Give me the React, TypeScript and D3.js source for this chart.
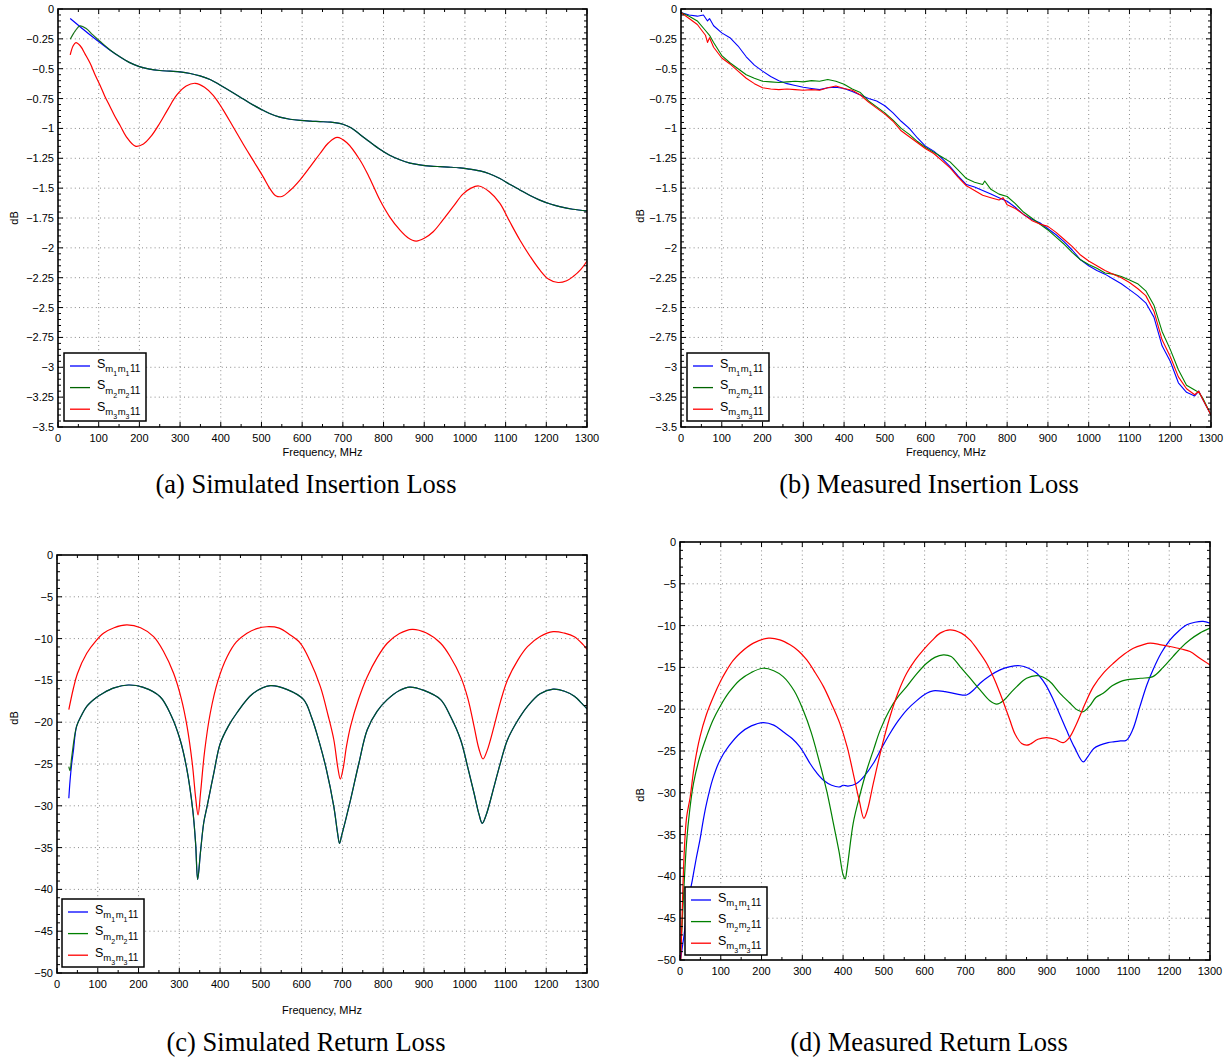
import React from "react";
import * as d3 from "d3";

// ---------- tick labels ----------
const freqTicks = [0, 100, 200, 300, 400, 500, 600, 700, 800, 900, 1000, 1100, 1200, 1300];
const ilTicks = [0, -0.25, -0.5, -0.75, -1, -1.25, -1.5, -1.75, -2, -2.25, -2.5, -2.75, -3, -3.25, -3.5];
const rlTicks = [0, -5, -10, -15, -20, -25, -30, -35, -40, -45, -50];
const captions = ["(a) Simulated Insertion Loss", "(b) Measured Insertion Loss", "(c) Simulated Return Loss", "(d) Measured Return Loss"];
const legendIdx = ["1", "2", "3"];

type P = [number, number];

// ---------- (a) simulated insertion loss [MHz, dB] ----------
const simIL_m1: P[] = [[30,-0.08],[55,-0.15],[80,-0.22],[103,-0.28],[128,-0.345],[152,-0.40],[175,-0.447],[200,-0.482],[225,-0.503],[250,-0.515],[275,-0.521],[300,-0.527],[325,-0.54],[349,-0.56],[375,-0.592],[398,-0.636],[425,-0.69],[447,-0.736],[470,-0.785],[496,-0.834],[520,-0.875],[545,-0.905],[570,-0.923],[595,-0.933],[620,-0.939],[644,-0.943],[670,-0.948],[700,-0.965],[720,-0.995],[742,-1.05],[765,-1.11],[791,-1.175],[815,-1.225],[840,-1.262],[865,-1.29],[889,-1.305],[915,-1.315],[939,-1.32],[965,-1.325],[988,-1.331],[1010,-1.34],[1037,-1.356],[1060,-1.38],[1086,-1.42],[1110,-1.468],[1135,-1.515],[1160,-1.562],[1184,-1.60],[1210,-1.633],[1233,-1.655],[1265,-1.677],[1300,-1.69]];
const simIL_m2: P[] = [[30,-0.254],[42,-0.185],[54,-0.142],[70,-0.165],[85,-0.215],[103,-0.27],[128,-0.343],[152,-0.40],[175,-0.447],[200,-0.482],[225,-0.503],[250,-0.515],[275,-0.521],[300,-0.527],[325,-0.54],[349,-0.56],[375,-0.592],[398,-0.636],[425,-0.69],[447,-0.736],[470,-0.785],[496,-0.834],[520,-0.875],[545,-0.905],[570,-0.923],[595,-0.933],[620,-0.939],[644,-0.943],[670,-0.948],[700,-0.965],[720,-0.995],[742,-1.05],[765,-1.11],[791,-1.175],[815,-1.225],[840,-1.262],[865,-1.29],[889,-1.305],[915,-1.315],[939,-1.32],[965,-1.325],[988,-1.331],[1010,-1.34],[1037,-1.356],[1060,-1.38],[1086,-1.42],[1110,-1.468],[1135,-1.515],[1160,-1.562],[1184,-1.60],[1210,-1.633],[1233,-1.655],[1265,-1.677],[1300,-1.69]];
const simIL_m3: P[] = [[30,-0.385],[37,-0.31],[44,-0.282],[55,-0.31],[67,-0.38],[79,-0.455],[91,-0.55],[103,-0.636],[115,-0.73],[128,-0.818],[140,-0.90],[152,-0.971],[168,-1.07],[190,-1.148],[210,-1.13],[230,-1.06],[250,-0.957],[270,-0.84],[292,-0.72],[315,-0.645],[337,-0.622],[360,-0.655],[382,-0.725],[405,-0.84],[431,-0.99],[455,-1.13],[480,-1.27],[505,-1.41],[520,-1.50],[535,-1.563],[550,-1.57],[570,-1.52],[595,-1.43],[620,-1.32],[644,-1.21],[665,-1.12],[686,-1.075],[710,-1.12],[742,-1.264],[765,-1.41],[791,-1.60],[815,-1.74],[840,-1.85],[860,-1.915],[880,-1.943],[900,-1.92],[922,-1.865],[945,-1.77],[971,-1.655],[995,-1.55],[1015,-1.50],[1034,-1.482],[1060,-1.53],[1086,-1.627],[1110,-1.78],[1135,-1.934],[1160,-2.07],[1184,-2.185],[1205,-2.26],[1229,-2.29],[1250,-2.275],[1266,-2.24],[1285,-2.18],[1300,-2.11]];

// ---------- (b) measured insertion loss ----------
const measIL_m1: P[] = [[0,-0.03],[20,-0.05],[40,-0.06],[55,-0.05],[65,-0.10],[70,-0.08],[80,-0.14],[100,-0.20],[120,-0.24],[140,-0.31],[160,-0.40],[180,-0.47],[200,-0.52],[220,-0.565],[240,-0.60],[260,-0.625],[280,-0.64],[300,-0.655],[320,-0.665],[340,-0.675],[360,-0.66],[380,-0.655],[400,-0.665],[420,-0.69],[440,-0.72],[460,-0.75],[480,-0.77],[500,-0.81],[520,-0.87],[540,-0.94],[560,-1.00],[580,-1.08],[600,-1.15],[620,-1.19],[640,-1.25],[660,-1.32],[680,-1.40],[700,-1.47],[720,-1.49],[740,-1.52],[760,-1.55],[780,-1.58],[800,-1.61],[820,-1.66],[840,-1.72],[860,-1.76],[880,-1.79],[900,-1.84],[920,-1.89],[940,-1.95],[960,-2.02],[980,-2.10],[1000,-2.15],[1020,-2.19],[1040,-2.22],[1060,-2.26],[1080,-2.30],[1100,-2.35],[1120,-2.40],[1140,-2.46],[1160,-2.58],[1180,-2.82],[1200,-2.95],[1220,-3.13],[1240,-3.21],[1260,-3.24],[1270,-3.20],[1280,-3.27],[1300,-3.40]];
const measIL_m2: P[] = [[0,-0.03],[20,-0.06],[40,-0.10],[60,-0.18],[70,-0.22],[80,-0.28],[100,-0.39],[120,-0.45],[140,-0.50],[160,-0.55],[180,-0.58],[200,-0.605],[220,-0.61],[240,-0.615],[260,-0.61],[280,-0.605],[300,-0.61],[320,-0.60],[340,-0.605],[360,-0.59],[380,-0.605],[400,-0.63],[420,-0.67],[440,-0.70],[460,-0.77],[480,-0.82],[500,-0.87],[520,-0.93],[540,-1.00],[560,-1.05],[580,-1.11],[600,-1.16],[620,-1.20],[640,-1.24],[660,-1.28],[680,-1.35],[700,-1.42],[720,-1.45],[740,-1.47],[745,-1.44],[760,-1.51],[780,-1.55],[800,-1.57],[820,-1.63],[840,-1.70],[860,-1.75],[880,-1.80],[900,-1.85],[920,-1.91],[940,-1.97],[960,-2.04],[980,-2.10],[1000,-2.14],[1020,-2.17],[1040,-2.21],[1060,-2.22],[1080,-2.24],[1100,-2.27],[1120,-2.30],[1140,-2.36],[1160,-2.48],[1180,-2.70],[1200,-2.85],[1220,-3.02],[1240,-3.15],[1260,-3.19],[1270,-3.21],[1280,-3.26],[1300,-3.40]];
const measIL_m3: P[] = [[0,-0.03],[20,-0.08],[40,-0.13],[60,-0.22],[65,-0.28],[70,-0.24],[80,-0.32],[100,-0.41],[120,-0.46],[140,-0.52],[160,-0.58],[180,-0.625],[200,-0.66],[220,-0.67],[240,-0.675],[260,-0.67],[280,-0.675],[300,-0.68],[320,-0.675],[340,-0.68],[360,-0.66],[380,-0.645],[400,-0.665],[420,-0.68],[440,-0.72],[460,-0.78],[480,-0.83],[500,-0.88],[520,-0.94],[540,-1.02],[560,-1.07],[580,-1.12],[600,-1.17],[620,-1.21],[640,-1.27],[660,-1.33],[680,-1.41],[700,-1.48],[720,-1.52],[740,-1.56],[760,-1.58],[780,-1.60],[790,-1.58],[800,-1.64],[820,-1.67],[840,-1.72],[860,-1.77],[880,-1.80],[900,-1.82],[920,-1.87],[940,-1.93],[960,-1.99],[980,-2.06],[1000,-2.11],[1020,-2.15],[1040,-2.19],[1060,-2.22],[1080,-2.25],[1100,-2.29],[1120,-2.34],[1140,-2.40],[1160,-2.53],[1180,-2.77],[1200,-2.91],[1220,-3.08],[1240,-3.18],[1260,-3.23],[1270,-3.20],[1280,-3.27],[1300,-3.40]];

// ---------- (c) simulated return loss ----------
const simRL_m1: P[] = [[29,-29.1],[32,-27],[36,-25],[40,-23.5],[48,-20.5],[60,-19.2],[73,-18.1],[95,-17.1],[114,-16.5],[140,-15.9],[175,-15.55],[210,-15.8],[253,-16.95],[280,-19.2],[302,-22.1],[318,-25.5],[333,-30.5],[340,-34.5],[345,-38.8],[352,-35.5],[360,-32],[368,-30.1],[385,-26],[400,-22.6],[420,-20.5],[441,-18.9],[480,-16.6],[523,-15.63],[565,-16.1],[605,-17.3],[625,-19.5],[644,-22.5],[660,-25.5],[679,-30.1],[688,-33.2],[693,-34.5],[698,-33.6],[707,-31.9],[720,-29.3],[740,-25],[761,-20.9],[785,-18.7],[810,-17.3],[840,-16.2],[865,-15.8],[900,-16.2],[941,-17.3],[965,-19.3],[990,-22.1],[1008,-25.5],[1023,-28.5],[1035,-31],[1043,-32.1],[1052,-31.2],[1072,-27.7],[1088,-24.8],[1105,-22.1],[1130,-19.8],[1154,-18.1],[1185,-16.6],[1217,-16.05],[1245,-16.3],[1269,-16.9],[1290,-17.9],[1300,-18.4]];
const simRL_m2: P[] = [[29,-25.3],[32,-25.8],[36,-24.2],[48,-20.5],[60,-19.2],[73,-18.1],[95,-17.1],[114,-16.5],[140,-15.9],[175,-15.55],[210,-15.8],[253,-16.95],[280,-19.2],[302,-22.1],[318,-25.5],[333,-30.5],[340,-34.5],[345,-38.8],[352,-35.5],[360,-32],[368,-30.1],[385,-26],[400,-22.6],[420,-20.5],[441,-18.9],[480,-16.6],[523,-15.63],[565,-16.1],[605,-17.3],[625,-19.5],[644,-22.5],[660,-25.5],[679,-30.1],[688,-33.2],[693,-34.5],[698,-33.6],[707,-31.9],[720,-29.3],[740,-25],[761,-20.9],[785,-18.7],[810,-17.3],[840,-16.2],[865,-15.8],[900,-16.2],[941,-17.3],[965,-19.3],[990,-22.1],[1008,-25.5],[1023,-28.5],[1035,-31],[1043,-32.1],[1052,-31.2],[1072,-27.7],[1088,-24.8],[1105,-22.1],[1130,-19.8],[1154,-18.1],[1185,-16.6],[1217,-16.05],[1245,-16.3],[1269,-16.9],[1290,-17.9],[1300,-18.4]];
const simRL_m3: P[] = [[29,-18.5],[40,-16],[50,-14.2],[73,-11.76],[95,-10.3],[114,-9.37],[140,-8.7],[171,-8.37],[205,-8.7],[237,-9.77],[262,-11.6],[286,-14.15],[305,-17.2],[319,-20.5],[332,-25],[340,-29],[346,-31.1],[352,-28.5],[362,-23.5],[376,-18.9],[395,-15],[417,-12.2],[440,-10.4],[466,-9.37],[490,-8.8],[515,-8.58],[545,-8.75],[570,-9.5],[597,-10.56],[620,-12.6],[646,-15.75],[665,-19.2],[679,-22.1],[689,-25.5],[695,-26.8],[702,-25.5],[710,-22.9],[720,-20.5],[740,-17.2],[761,-14.55],[785,-12.3],[810,-10.56],[840,-9.4],[871,-8.89],[905,-9.3],[941,-10.56],[965,-12.2],[990,-14.55],[1008,-17.2],[1023,-20.5],[1035,-23.2],[1045,-24.4],[1055,-23.4],[1072,-20.5],[1088,-17.5],[1105,-14.95],[1130,-12.6],[1154,-10.97],[1185,-9.75],[1217,-9.17],[1245,-9.35],[1269,-9.77],[1290,-10.7],[1300,-11.3]];

// ---------- (d) measured return loss ----------
const measRL_m1: P[] = [[1,-50],[10,-47],[20,-43],[30,-40.5],[40,-37.8],[49,-35.6],[57,-33.3],[65,-31.3],[80,-28.4],[98,-26.1],[120,-24.4],[147,-22.9],[175,-22],[204,-21.6],[230,-21.9],[253,-22.7],[275,-23.5],[294,-24.5],[306,-25.4],[319,-26.5],[335,-27.6],[352,-28.5],[372,-29.1],[392,-29.3],[400,-29.1],[412,-29.2],[433,-28.9],[452,-28],[474,-26.5],[495,-24.6],[515,-22.9],[535,-21.4],[556,-20.1],[580,-19],[605,-18.1],[621,-17.8],[650,-17.9],[680,-18.2],[703,-18.3],[720,-17.7],[736,-16.9],[760,-16],[785,-15.3],[810,-14.9],[834,-14.8],[855,-15.1],[875,-15.7],[896,-17],[916,-18.9],[932,-20.7],[948,-22.5],[968,-24.6],[989,-26.3],[1000,-25.7],[1015,-24.7],[1030,-24.3],[1050,-24.0],[1063,-23.9],[1080,-23.8],[1095,-23.7],[1110,-22.5],[1128,-19.7],[1145,-17.1],[1160,-15.3],[1180,-13.3],[1202,-11.7],[1222,-10.7],[1243,-9.9],[1263,-9.6],[1283,-9.5],[1300,-9.7]];
const measRL_m2: P[] = [[1,-49],[5,-46],[10,-41],[16,-36],[24,-32],[33,-28.9],[48,-25.8],[65,-23.3],[80,-21.4],[98,-19.7],[120,-18],[147,-16.5],[175,-15.6],[204,-15.1],[230,-15.4],[253,-16.1],[280,-17.8],[302,-20.1],[322,-22.8],[343,-26.5],[360,-29.8],[376,-33.6],[390,-37],[400,-39.8],[405,-40.3],[410,-39],[425,-33.6],[440,-30.5],[458,-27.3],[475,-24.8],[491,-22.5],[515,-20],[535,-18.5],[556,-17.3],[580,-15.8],[605,-14.5],[625,-13.8],[646,-13.5],[665,-13.7],[687,-14.9],[710,-16.2],[736,-17.7],[760,-19],[777,-19.4],[795,-18.9],[810,-18.1],[826,-17.3],[850,-16.3],[879,-16.0],[905,-16.6],[932,-18.1],[955,-19.2],[975,-20.1],[989,-20.3],[1005,-19.6],[1020,-18.6],[1038,-18.1],[1060,-17.2],[1080,-16.7],[1095,-16.5],[1130,-16.3],[1160,-16.1],[1185,-15],[1209,-13.7],[1230,-12.6],[1251,-11.7],[1275,-10.9],[1300,-10.3]];
const measRL_m3: P[] = [[2,-50],[5,-45],[10,-37.5],[16,-33],[25,-30.5],[35,-26.8],[49,-23.3],[65,-20.6],[82,-18.5],[100,-16.6],[115,-15.3],[130,-14.2],[147,-13.3],[180,-12.1],[217,-11.5],[245,-11.7],[270,-12.3],[290,-13],[311,-14.1],[330,-15.5],[352,-17.3],[372,-19.4],[392,-21.7],[410,-24.5],[425,-27.7],[440,-31],[451,-33.05],[460,-32],[474,-28.9],[495,-24.5],[515,-20.9],[535,-18],[556,-15.7],[577,-14.1],[597,-12.9],[618,-11.8],[638,-10.9],[662,-10.5],[690,-10.9],[711,-11.7],[730,-12.9],[752,-14.5],[770,-16.3],[785,-18.1],[798,-19.8],[809,-21.3],[822,-23],[838,-24.1],[850,-24.3],[858,-24.2],[878,-23.6],[899,-23.4],[920,-23.6],[940,-24.0],[955,-23.4],[973,-21.7],[993,-19.4],[1014,-17.3],[1040,-15.6],[1063,-14.5],[1090,-13.4],[1112,-12.7],[1135,-12.3],[1153,-12.1],[1180,-12.3],[1202,-12.5],[1230,-12.8],[1251,-13.1],[1275,-13.9],[1300,-14.7]];

// ---------- rendering ----------
const FONT = "'Liberation Sans', Arial, Helvetica, sans-serif";
const SERIF = "'Liberation Serif', 'Times New Roman', serif";

function fmt(v: number): string {
  return v === 0 ? "0" : "\u2212" + String(Math.abs(v));
}

type Series = { data: P[]; color: string; opacity?: number };

type PanelProps = {
  id: string;
  left: number; right: number; top: number; bottom: number;
  yTicks: number[]; yMinorStep: number;
  series: Series[];
  legendColors: string[];
  legendX: number; legendY: number;
  dbX: number; dbY: number;
  freqY?: number;
  curve: d3.CurveFactory;
  lineWidth: number;
};

function Panel(p: PanelProps) {
  const x = d3.scaleLinear().domain([0, 1300]).range([p.left, p.right]);
  const yMin = d3.min(p.yTicks) as number;
  const y = d3.scaleLinear().domain([yMin, 0]).range([p.bottom, p.top]);
  const line = d3.line<P>().x(d => x(d[0])).y(d => y(d[1])).curve(p.curve);
  const xMinor = d3.range(0, 27).map(i => i * 50).filter(v => v % 100 !== 0);
  const nMinor = Math.round(-yMin / p.yMinorStep);
  const yMinor = d3.range(0, nMinor + 1).map(i => -i * p.yMinorStep);
  const major = 5, minor = 3;
  const grid = { stroke: "#8a8a8a", strokeWidth: 1, strokeDasharray: "1 3.2" };
  return (
    <g>
      <defs>
        <clipPath id={p.id}>
          <rect x={p.left} y={p.top} width={p.right - p.left} height={p.bottom - p.top} />
        </clipPath>
      </defs>
      {freqTicks.slice(1, -1).map(v => (
        <line key={"gx" + v} x1={x(v)} x2={x(v)} y1={p.top} y2={p.bottom} {...grid} />
      ))}
      {p.yTicks.filter(v => v !== 0 && v !== yMin).map(v => (
        <line key={"gy" + v} x1={p.left} x2={p.right} y1={y(v)} y2={y(v)} {...grid} />
      ))}
      <g clipPath={`url(#${p.id})`}>
        {p.series.map((s, i) => (
          <path key={i} d={line(s.data) || ""} fill="none" stroke={s.color}
            strokeOpacity={s.opacity ?? 1} strokeWidth={p.lineWidth} strokeLinejoin="round" />
        ))}
      </g>
      {/* ticks on all four sides */}
      <g stroke="#000" strokeWidth={1}>
        {freqTicks.map(v => (
          <g key={"tx" + v}>
            <line x1={x(v)} x2={x(v)} y1={p.bottom} y2={p.bottom - major} />
            <line x1={x(v)} x2={x(v)} y1={p.top} y2={p.top + major} />
          </g>
        ))}
        {xMinor.map(v => (
          <g key={"mx" + v}>
            <line x1={x(v)} x2={x(v)} y1={p.bottom} y2={p.bottom - minor} />
            <line x1={x(v)} x2={x(v)} y1={p.top} y2={p.top + minor} />
          </g>
        ))}
        {yMinor.map((v, i) => {
          const isMajor = p.yTicks.some(t => Math.abs(t - v) < 1e-6);
          const len = isMajor ? major : minor;
          return (
            <g key={"my" + i}>
              <line x1={p.left} x2={p.left + len} y1={y(v)} y2={y(v)} />
              <line x1={p.right} x2={p.right - len} y1={y(v)} y2={y(v)} />
            </g>
          );
        })}
      </g>
      <rect x={p.left} y={p.top} width={p.right - p.left} height={p.bottom - p.top}
        fill="none" stroke="#000" strokeWidth={1.6} />
      {/* tick labels */}
      <g fontFamily={FONT} fontSize={11} fill="#000">
        {freqTicks.map(v => (
          <text key={"lx" + v} x={x(v)} y={p.bottom + 15} textAnchor="middle">{String(v)}</text>
        ))}
        {p.yTicks.map(v => (
          <text key={"ly" + v} x={p.left - 4} y={y(v)} dy="0.36em" textAnchor="end">{fmt(v)}</text>
        ))}
        <text transform={`translate(${p.dbX},${p.dbY}) rotate(-90)`} textAnchor="middle" dy="0.36em">dB</text>
        {p.freqY !== undefined && (
          <text x={(p.left + p.right) / 2} y={p.freqY} textAnchor="middle">Frequency, MHz</text>
        )}
      </g>
      {/* legend */}
      <g>
        <rect x={p.legendX} y={p.legendY} width={82} height={68} fill="#fff" stroke="#000" strokeWidth={1.5} />
        {p.legendColors.map((c, i) => {
          const ly = p.legendY + 13 + i * 21.6;
          const k = legendIdx[i];
          return (
            <g key={"lg" + i}>
              <line x1={p.legendX + 6} x2={p.legendX + 26} y1={ly} y2={ly} stroke={c} strokeWidth={1.3} />
              <text x={p.legendX + 33} y={ly + 1.5} fontFamily={FONT} fontSize={12.5} fill="#000">
                S
                <tspan fontSize={9.5} dy={4.5}>m</tspan>
                <tspan fontSize={7} dy={4}>{k}</tspan>
                <tspan fontSize={9.5} dx={0.5} dy={-4}>m</tspan>
                <tspan fontSize={7} dy={4}>{k}</tspan>
                <tspan fontSize={10} dx={0.5} dy={-4}>11</tspan>
              </text>
            </g>
          );
        })}
      </g>
    </g>
  );
}

export default function App() {
  const blue = "#0000ff", red = "#ff0000", green = "#008000", dgreen = "#006400";
  const smooth = d3.curveCatmullRom.alpha(0.5);
  return (
    <svg width={1231} height={1057} viewBox="0 0 1231 1057"
      style={{ position: "absolute", left: 0, top: 0, background: "#fff" }}>
      <rect x={0} y={0} width={1231} height={1057} fill="#fff" />
      <Panel id="clipA" left={58} right={587} top={9} bottom={427}
        yTicks={ilTicks} yMinorStep={0.05}
        series={[{ data: simIL_m1, color: blue }, { data: simIL_m2, color: dgreen, opacity: 0.9 }, { data: simIL_m3, color: red }]}
        legendColors={[blue, dgreen, red]} legendX={64} legendY={353}
        dbX={14} dbY={218} freqY={456} curve={smooth} lineWidth={1.2} />
      <Panel id="clipB" left={681} right={1211} top={9} bottom={427}
        yTicks={ilTicks} yMinorStep={0.05}
        series={[{ data: measIL_m1, color: blue }, { data: measIL_m2, color: green }, { data: measIL_m3, color: red }]}
        legendColors={[blue, dgreen, red]} legendX={687} legendY={353}
        dbX={640} dbY={216} freqY={456} curve={d3.curveLinear} lineWidth={1.1} />
      <Panel id="clipC" left={57} right={587} top={555} bottom={973}
        yTicks={rlTicks} yMinorStep={1}
        series={[{ data: simRL_m1, color: blue }, { data: simRL_m2, color: dgreen, opacity: 0.9 }, { data: simRL_m3, color: red }]}
        legendColors={[blue, green, red]} legendX={62} legendY={899}
        dbX={14} dbY={718} freqY={1014} curve={smooth} lineWidth={1.2} />
      <Panel id="clipD" left={680} right={1210} top={542} bottom={960}
        yTicks={rlTicks} yMinorStep={1}
        series={[{ data: measRL_m1, color: blue }, { data: measRL_m2, color: green }, { data: measRL_m3, color: red }]}
        legendColors={[blue, green, red]} legendX={685} legendY={887}
        dbX={640} dbY={795} curve={smooth} lineWidth={1.2} />
      <g fontFamily={SERIF} fontSize={26.5} fill="#000" textAnchor="middle">
        <text x={306} y={493}>{captions[0]}</text>
        <text x={929} y={493}>{captions[1]}</text>
        <text x={306} y={1051}>{captions[2]}</text>
        <text x={929} y={1051}>{captions[3]}</text>
      </g>
    </svg>
  );
}
